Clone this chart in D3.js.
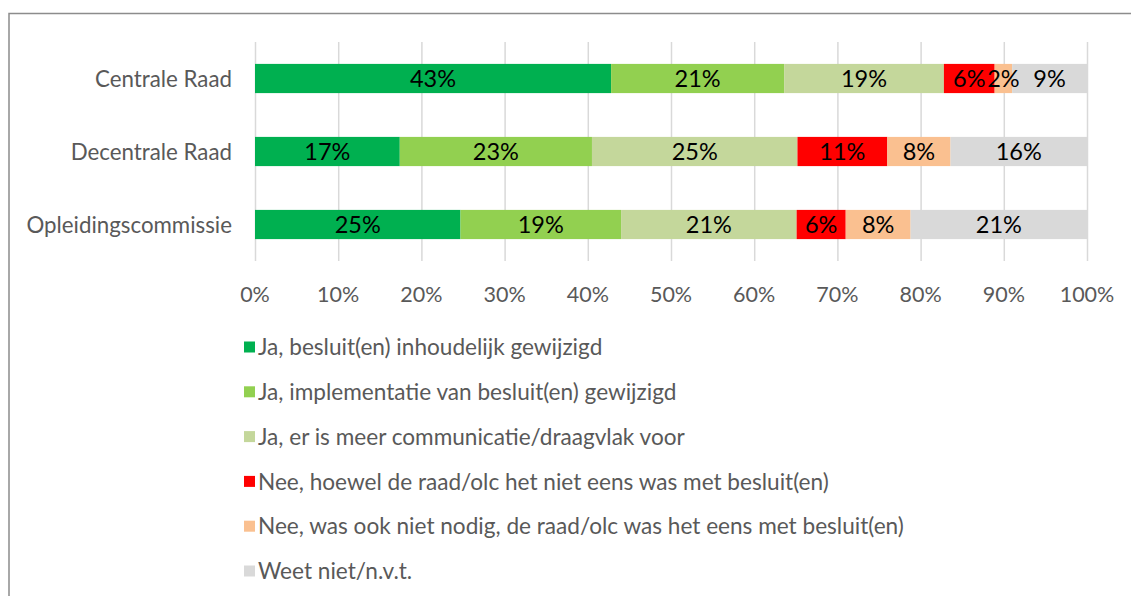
<!DOCTYPE html>
<html><head><meta charset="utf-8">
<script src="https://cdn.jsdelivr.net/npm/d3@7"></script>
<style>body{margin:0;background:#fff}svg{display:block}</style>
</head><body>
<script>
const categories = ["Centrale Raad", "Decentrale Raad", "Opleidingscommissie"];
const seriesNames = [
  "Ja, besluit(en) inhoudelijk gewijzigd",
  "Ja, implementatie van besluit(en) gewijzigd",
  "Ja, er is meer communicatie/draagvlak voor",
  "Nee, hoewel de raad/olc het niet eens was met besluit(en)",
  "Nee, was ook niet nodig, de raad/olc was het eens met besluit(en)",
  "Weet niet/n.v.t."
];
const seriesColors = ["#00B050", "#92D050", "#C4D79B", "#FF0000", "#FAC090", "#D9D9D9"];
// values per series, in category order (percent)
const s1 = [42.8, 17.4, 24.7];
const s2 = [20.8, 23.1, 19.3];
const s3 = [19.2, 24.7, 21.1];
const s4 = [6.1, 10.8, 5.9];
const s5 = [2.1, 7.6, 7.8];
const s6 = [9.0, 16.4, 21.2];
const tickValues = [0, 10, 20, 30, 40, 50, 60, 70, 80, 90, 100];

const W = 1131, H = 596;
const font = "Lato, 'Open Sans', sans-serif";
const svg = d3.select("body").append("svg").attr("width", W).attr("height", H);

svg.append("rect").attr("x", 9).attr("y", 13.5).attr("width", W + 10).attr("height", H + 10)
  .attr("fill", "none").attr("stroke", "#8c8c8c").attr("stroke-width", 1.5);

const x = d3.scaleLinear().domain([0, 100]).range([255, 1087]);
const y = d3.scaleBand().domain(categories).range([42, 261]).paddingInner(0.6).paddingOuter(0.3);

const allSeries = [s1, s2, s3, s4, s5, s6];
const rows = categories.map((c, i) => {
  const o = { cat: c };
  allSeries.forEach((s, j) => o["k" + j] = s[i]);
  return o;
});
const keys = allSeries.map((s, j) => "k" + j);
const stacked = d3.stack().keys(keys)(rows);

// gridlines
svg.append("g").selectAll("line").data(tickValues).join("line")
  .attr("x1", d => x(d) + 0.5).attr("x2", d => x(d) + 0.5)
  .attr("y1", 42).attr("y2", 261)
  .attr("stroke", "#D9D9D9").attr("stroke-width", 1.5);

// bars
const g = svg.append("g");
stacked.forEach((layer, j) => {
  g.append("g").attr("fill", seriesColors[j]).selectAll("rect").data(layer).join("rect")
    .attr("x", d => x(d[0])).attr("width", d => x(d[1]) - x(d[0]))
    .attr("y", d => y(d.data.cat)).attr("height", y.bandwidth());
});
// labels
stacked.forEach((layer, j) => {
  g.append("g").selectAll("text").data(layer).join("text")
    .attr("x", d => (x(d[0]) + x(d[1])) / 2)
    .attr("y", d => y(d.data.cat) + y.bandwidth() / 2)
    .attr("dy", "0.36em").attr("text-anchor", "middle")
    .attr("font-family", font).attr("font-size", 23.5).attr("fill", "#000")
    .text(d => Math.round(d[1] - d[0]) + "%");
});

// category axis labels
svg.append("g").selectAll("text").data(categories).join("text")
  .attr("x", 232).attr("y", d => y(d) + y.bandwidth() / 2).attr("dy", "0.36em")
  .attr("text-anchor", "end").attr("font-family", font).attr("font-size", 22.3).attr("fill", "#595959")
  .text(d => d);

// x tick labels
svg.append("g").selectAll("text").data(tickValues).join("text")
  .attr("x", d => x(d)).attr("y", 294).attr("dy", "0.36em")
  .attr("text-anchor", "middle").attr("font-family", font).attr("font-size", 21.5).attr("fill", "#595959")
  .text(d => d + "%");

// legend
const lg = svg.append("g").selectAll("g").data(seriesNames).join("g")
  .attr("transform", (d, i) => `translate(244, ${347 + i * 44.8})`);
lg.append("rect").attr("x", 0).attr("y", -5.5).attr("width", 11).attr("height", 11)
  .attr("fill", (d, i) => seriesColors[i]);
lg.append("text").attr("x", 14).attr("y", 0).attr("dy", "0.36em")
  .attr("font-family", font).attr("font-size", 22.6).attr("fill", "#595959").text(d => d);
</script>
</body></html>
